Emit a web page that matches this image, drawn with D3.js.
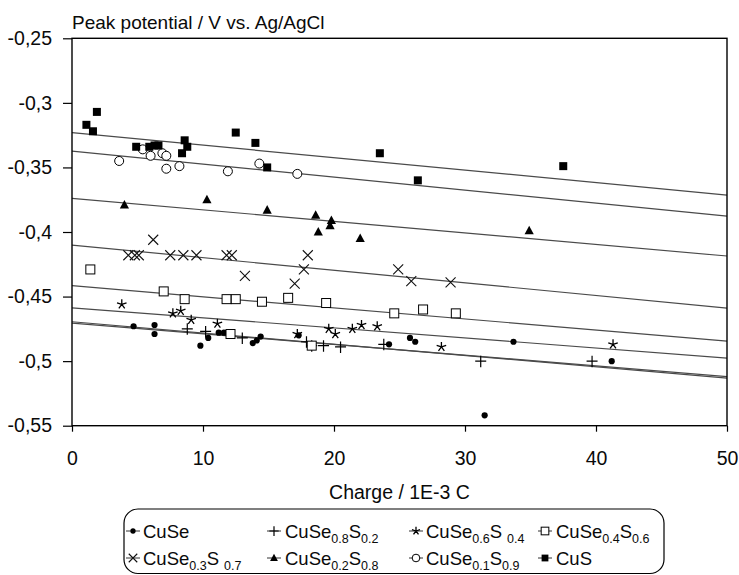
<!DOCTYPE html>
<html><head><meta charset="utf-8">
<script src="https://cdn.jsdelivr.net/npm/d3@7"></script>
<style>
body{margin:0;background:#fff}
svg{display:block}
text{font-family:"Liberation Sans",Arial,Helvetica,sans-serif;fill:#0a0a0a}
</style>
</head><body>
<svg id="chart" width="739" height="575"></svg>
<script>
// ---- data ----
const seriesNames = ["CuSe","CuSe0.8S0.2","CuSe0.6S 0.4","CuSe0.4S0.6","CuSe0.3S 0.7","CuSe0.2S0.8","CuSe0.1S0.9","CuS"];

const cuSeX = [4.7, 6.3, 6.3, 9.8, 10.4, 11.2, 11.6, 13.8, 14.1, 14.4, 17.3, 24.2, 25.8, 26.2, 33.7, 41.2, 31.5];
const cuSeY = [-0.473, -0.472, -0.479, -0.488, -0.482, -0.478, -0.478, -0.486, -0.484, -0.481, -0.480, -0.487, -0.482, -0.485, -0.485, -0.500, -0.542];

const se08X = [8.8, 10.2, 13.0, 17.9, 18.3, 19.2, 20.5, 23.8, 31.2, 39.7];
const se08Y = [-0.475, -0.477, -0.482, -0.485, -0.488, -0.488, -0.489, -0.487, -0.500, -0.500];

const se06X = [3.8, 7.7, 8.3, 9.1, 11.1, 17.2, 19.6, 20.1, 21.4, 22.1, 23.3, 28.2, 41.3];
const se06Y = [-0.456, -0.463, -0.461, -0.468, -0.471, -0.479, -0.475, -0.479, -0.475, -0.472, -0.473, -0.489, -0.487];

const se04X = [1.4, 7.0, 8.6, 11.8, 12.5, 14.5, 16.5, 12.1, 19.4, 24.6, 26.8, 29.3, 18.3];
const se04Y = [-0.429, -0.446, -0.452, -0.452, -0.452, -0.454, -0.451, -0.479, -0.455, -0.463, -0.460, -0.463, -0.488];

const se03X = [6.2, 4.3, 4.8, 5.1, 7.5, 8.5, 9.5, 11.8, 12.2, 13.2, 18.0, 17.7, 17.0, 24.9, 25.9, 28.9];
const se03Y = [-0.406, -0.418, -0.418, -0.418, -0.418, -0.418, -0.418, -0.418, -0.418, -0.434, -0.418, -0.429, -0.440, -0.429, -0.438, -0.439];

const se02X = [4.0, 10.3, 14.9, 18.6, 19.8, 19.7, 18.8, 22.0, 34.9];
const se02Y = [-0.379, -0.375, -0.383, -0.387, -0.391, -0.395, -0.400, -0.405, -0.399];

const se01X = [3.6, 5.4, 6.0, 6.9, 7.2, 7.2, 8.2, 11.9, 14.3, 17.2];
const se01Y = [-0.345, -0.336, -0.341, -0.339, -0.341, -0.351, -0.349, -0.353, -0.347, -0.355];

const cuSX = [1.1, 1.9, 1.6, 4.9, 5.9, 6.3, 6.6, 8.6, 8.8, 8.4, 12.5, 14.0, 14.9, 23.5, 26.4, 37.5];
const cuSY = [-0.317, -0.307, -0.322, -0.334, -0.334, -0.333, -0.333, -0.329, -0.334, -0.339, -0.323, -0.331, -0.350, -0.339, -0.360, -0.349];

// trend lines: value at x = 0 and x = 50
const trendX = [0, 50];
const trendStart = [-0.4695, -0.4705, -0.4587, -0.4416, -0.4101, -0.3739, -0.3373, -0.3231];
const trendEnd   = [-0.5131, -0.5120, -0.4976, -0.4845, -0.4589, -0.4186, -0.3877, -0.3714];

const xTicks = [0, 10, 20, 30, 40, 50];
const xTickLabels = ["0", "10", "20", "30", "40", "50"];
const yTicks = [-0.25, -0.3, -0.35, -0.4, -0.45, -0.5, -0.55];
const yTickLabels = ["-0,25", "-0,3", "-0,35", "-0,4", "-0,45", "-0,5", "-0,55"];

const yTitle = "Peak potential / V vs. Ag/AgCl";
const xTitle = "Charge / 1E-3 C";

// ---- build ----
const markerTypes = ["dot","plus","star","sqOpen","times","tri","circOpen","sqFill"];
const xsAll = [cuSeX, se08X, se06X, se04X, se03X, se02X, se01X, cuSX];
const ysAll = [cuSeY, se08Y, se06Y, se04Y, se03Y, se02Y, se01Y, cuSY];
const series = seriesNames.map((n, i) => ({
  name: n, marker: markerTypes[i],
  pts: xsAll[i].map((x, j) => ({x, y: ysAll[i][j]})),
  trend: [{x: trendX[0], y: trendStart[i]}, {x: trendX[1], y: trendEnd[i]}]
}));

const svg = d3.select("#chart");
const L = 72, R = 727, T = 38.3, B = 425.7;
const x = d3.scaleLinear().domain([0, 50]).range([L, R]);
const y = d3.scaleLinear().domain([-0.55, -0.25]).range([B, T]);
const FONT = '"Liberation Sans",Arial,sans-serif';

// trend lines
const line = d3.line().x(d => x(d.x)).y(d => y(d.y));
svg.append("g").selectAll("path").data(series).join("path")
  .attr("d", d => line(d.trend))
  .attr("fill", "none").attr("stroke", "#4a4a4a").attr("stroke-width", 1.2);

// marker drawing
function drawMarker(g, type, cx, cy, s) {
  s = s || 1;
  if (type === "dot") {
    g.append("circle").attr("cx", cx).attr("cy", cy).attr("r", 3.1 * s).attr("fill", "#000");
  } else if (type === "plus") {
    g.append("path").attr("d", `M${cx-5.5*s},${cy}H${cx+5.5*s}M${cx},${cy-5.5*s}V${cy+6*s}`)
      .attr("stroke", "#000").attr("stroke-width", 1.2).attr("fill", "none");
  } else if (type === "star") {
    const p = d3.path();
    for (let k = 0; k < 5; k++) {
      const a = -Math.PI / 2 + k * 2 * Math.PI / 5;
      p.moveTo(cx, cy);
      p.lineTo(cx + 5 * s * Math.cos(a), cy + 5 * s * Math.sin(a));
    }
    g.append("path").attr("d", p.toString()).attr("stroke", "#000").attr("stroke-width", 1.3).attr("fill", "none");
  } else if (type === "sqOpen") {
    g.append("rect").attr("x", cx - 4.5*s).attr("y", cy - 4.5*s).attr("width", 9*s).attr("height", 9*s)
      .attr("fill", "#fff").attr("stroke", "#000").attr("stroke-width", 1);
  } else if (type === "times") {
    g.append("path").attr("d", `M${cx-5*s},${cy-5*s}L${cx+5*s},${cy+5*s}M${cx-5*s},${cy+5*s}L${cx+5*s},${cy-5*s}`)
      .attr("stroke", "#111").attr("stroke-width", 1.1).attr("fill", "none");
  } else if (type === "tri") {
    g.append("path").attr("d", `M${cx},${cy-5*s}L${cx+4.6*s},${cy+3.6*s}L${cx-4.6*s},${cy+3.6*s}Z`).attr("fill", "#000");
  } else if (type === "circOpen") {
    g.append("circle").attr("cx", cx).attr("cy", cy).attr("r", 4.5*s)
      .attr("fill", "#fff").attr("stroke", "#000").attr("stroke-width", 1);
  } else if (type === "sqFill") {
    g.append("rect").attr("x", cx - 4*s).attr("y", cy - 4*s).attr("width", 8*s).attr("height", 8*s).attr("fill", "#000");
  }
}

const mg = svg.append("g");
series.forEach(s => {
  const g = mg.append("g").attr("class", "series");
  s.pts.forEach(p => drawMarker(g, s.marker, x(p.x), y(p.y)));
});

// frame
svg.append("rect").attr("x", L).attr("y", T).attr("width", R - L).attr("height", B - T)
  .attr("fill", "none").attr("stroke", "#000").attr("stroke-width", 1.4);

// axes
const yAxis = d3.axisLeft(y).tickValues(yTicks).tickSize(9).tickPadding(11)
  .tickFormat((d, i) => yTickLabels[i]);
const ya = svg.append("g").attr("transform", `translate(${L},0)`).call(yAxis);
ya.select(".domain").remove();
ya.selectAll("line").attr("stroke", "#000").attr("stroke-width", 1.2);
ya.selectAll("text").attr("font-size", 19.5).attr("font-family", FONT).attr("fill", "#0a0a0a");

const xAxis = d3.axisBottom(x).tickValues(xTicks).tickSize(6).tickPadding(19)
  .tickFormat((d, i) => xTickLabels[i]);
const xa = svg.append("g").attr("transform", `translate(0,${B})`).call(xAxis);
xa.select(".domain").remove();
xa.selectAll("line").attr("stroke", "#000").attr("stroke-width", 1.2);
xa.selectAll("text").attr("font-size", 19.5).attr("font-family", FONT).attr("fill", "#0a0a0a");

// titles
svg.append("text").attr("x", 72).attr("y", 28.5).attr("font-size", 19).text(yTitle);
svg.append("text").attr("x", (L + R) / 2).attr("y", 499).attr("text-anchor", "middle").attr("font-size", 19.5).text(xTitle);

// legend
const legX0 = 124, legX1 = 664, legY0 = 509, legY1 = 573.5;
svg.append("rect").attr("x", legX0).attr("y", legY0).attr("width", legX1 - legX0).attr("height", legY1 - legY0)
  .attr("rx", 14).attr("ry", 14).attr("fill", "none").attr("stroke", "#000").attr("stroke-width", 1.2);

const legMarkerX = [133, 274, 416, 545];
const legTextX = [143, 285, 426, 556];
const legRowY = [531, 558];
const lg = svg.append("g");
series.forEach((s, i) => {
  const col = i % 4, row = Math.floor(i / 4);
  const mx = legMarkerX[col], my = legRowY[row];
  lg.append("line").attr("x1", mx - 7).attr("x2", mx + 7).attr("y1", my).attr("y2", my)
    .attr("stroke", "#333").attr("stroke-width", 1);
  drawMarker(lg, s.marker, mx, my, 0.85);
  const t = lg.append("text").attr("x", legTextX[col]).attr("y", my + 6.5).attr("font-size", 18.5);
  const parts = s.name.match(/[A-Za-z]+| ?[0-9.]+/g);
  let prevSub = false;
  parts.forEach(p => {
    const isSub = /[0-9]/.test(p);
    const ts = t.append("tspan").text(p.trim());
    if (isSub) {
      ts.attr("font-size", 12.5).attr("dy", prevSub ? 0 : 5).attr("dx", p.startsWith(" ") ? 5 : 0);
    } else if (prevSub) {
      ts.attr("dy", -5);
    }
    prevSub = isSub;
  });
});
</script>
</body></html>
